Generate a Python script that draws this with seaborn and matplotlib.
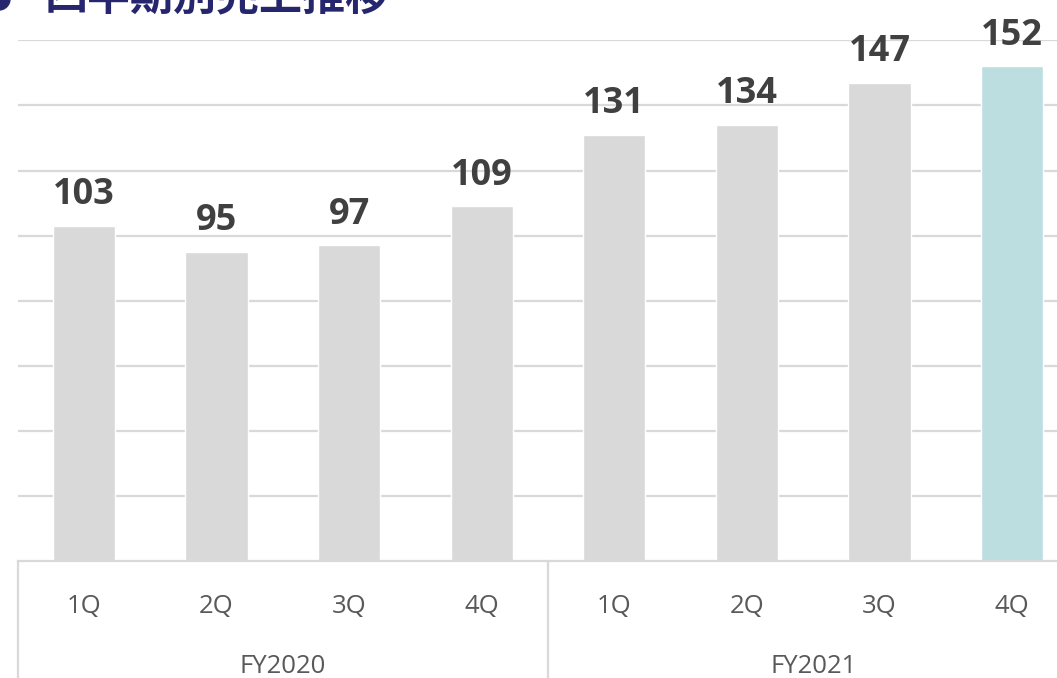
import matplotlib
matplotlib.use("Agg")
import matplotlib.pyplot as plt
from matplotlib.patches import Ellipse
import pandas as pd
import seaborn as sns

title = "四半期別売上推移"
years = ["FY2020", "FY2021"]
quarters = ["1Q", "2Q", "3Q", "4Q"]
sales = [103, 95, 97, 109, 131, 134, 147, 152]

bar_gray = "#d9d9d9"
bar_hl = "#bcdee1"
grid_col = "#d9d9d9"
label_col = "#404040"
tick_col = "#595959"

df = pd.DataFrame({
    "year": [y for y in years for _ in quarters],
    "quarter": quarters * len(years),
    "sales": sales,
})
df["key"] = df["year"] + " " + df["quarter"]
colors = [bar_gray] * (len(df) - 1) + [bar_hl]

sns.set_style("white")
plt.rcParams["font.family"] = ["Open Sans", "DejaVu Sans"]

W, H = 1057, 678
fig = plt.figure(figsize=(W / 100, H / 100), dpi=100)
ax = fig.add_axes([17.7 / W, (H - 561) / H, 1060.6 / W, 520.6 / H])

sns.barplot(data=df, x="key", y="sales", hue="key", palette=colors,
            width=0.47, saturation=1, legend=False, ax=ax, zorder=2)

ax.set_ylim(0, 160)
ax.set_xlim(-0.5, len(df) - 0.5)
ax.set_yticks(range(20, 161, 20))
ax.yaxis.grid(True, color=grid_col, linewidth=1.6, zorder=0)
ax.set_axisbelow(True)
ax.tick_params(axis="y", left=False, labelleft=False)
for s in ["top", "right", "left"]:
    ax.spines[s].set_visible(False)
ax.spines["bottom"].set_color(grid_col)
ax.spines["bottom"].set_linewidth(1.6)
ax.set_xlabel("")
ax.set_ylabel("")

ax.set_xticks(range(len(df)))
ax.set_xticklabels(df["quarter"], fontsize=18.5, color=tick_col)
ax.tick_params(axis="x", length=0, pad=24)

for c in ax.containers:
    ax.bar_label(c, fmt="%d", padding=9, fontsize=26, fontweight="bold",
                 color=label_col)

# group separators and year labels
xt = ax.get_xaxis_transform()
for i in range(len(years) + 1):
    x = i * len(quarters) - 0.5
    ax.plot([x, x], [0, -0.3], transform=xt, clip_on=False,
            color=grid_col, linewidth=1.6)
for i, y in enumerate(years):
    xc = i * len(quarters) + (len(quarters) - 1) / 2
    ax.annotate(y, xy=(xc, 0), xycoords=xt, xytext=(0, -76),
                textcoords="offset points", ha="center", va="center",
                fontsize=18.5, color=tick_col)

# partially cut-off heading
fig.text(45 / W, 1 - 9 / H, title, ha="left", va="baseline",
         fontsize=31, fontweight="bold", color="#26266e",
         family=["Noto Sans CJK JP", "DejaVu Sans"])
fig.add_artist(Ellipse((-1 / W, 1 + 1 / H), 22 / W, 22 / H,
                       transform=fig.transFigure, color="#26266e"))

fig.savefig("out.png", dpi=100)
